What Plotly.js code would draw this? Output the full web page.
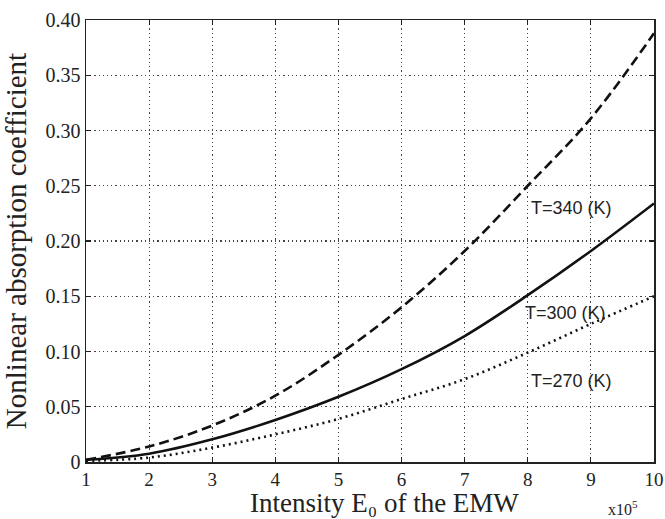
<!DOCTYPE html>
<html>
<head>
<meta charset="utf-8">
<script src="https://cdn.plot.ly/plotly-3.0.1.min.js"></script>
<style>
  html, body { margin: 0; padding: 0; background: #fff; }
  #chart { width: 665px; height: 519px; }
</style>
</head>
<body>
<div id="chart"></div>
<script>
// Intensity E0 (x10^5)
const intensity = [1, 2, 3, 4, 5, 6, 7, 8, 9, 10];
// Nonlinear absorption coefficient per temperature
const t340 = [0.002, 0.014, 0.033, 0.060, 0.097, 0.140, 0.191, 0.250, 0.311, 0.388];
const t300 = [0.002, 0.0075, 0.0205, 0.038, 0.059, 0.084, 0.114, 0.151, 0.191, 0.234];
const t270 = [0.001, 0.004, 0.013, 0.025, 0.039, 0.057, 0.075, 0.099, 0.125, 0.150];
const seriesLabels = ['T=340 (K)', 'T=300 (K)', 'T=270 (K)'];
const xTickVals = [1, 2, 3, 4, 5, 6, 7, 8, 9, 10];
const xTickText = ['1', '2', '3', '4', '5', '6', '7', '8', '9', '10'];
const yTickVals = [0, 0.05, 0.10, 0.15, 0.20, 0.25, 0.30, 0.35, 0.40];
const yTickText = ['0', '0.05', '0.10', '0.15', '0.20', '0.25', '0.30', '0.35', '0.40'];
const xTitle = 'Intensity E\u2080 of the EMW';
const yTitle = 'Nonlinear absorption coefficient';
const xScale = 'x10<sup>5</sup>';

const serif = 'Liberation Serif, Times New Roman, serif';
const sans = 'Liberation Sans, Arial, sans-serif';

const traces = [
  { x: intensity, y: t340, mode: 'lines', name: seriesLabels[0],
    line: { color: '#111', width: 2.6, dash: '10px,5px', shape: 'spline' } },
  { x: intensity, y: t300, mode: 'lines', name: seriesLabels[1],
    line: { color: '#111', width: 2.6, dash: 'solid', shape: 'spline' } },
  { x: intensity, y: t270, mode: 'lines', name: seriesLabels[2],
    line: { color: '#111', width: 2.6, dash: '2px,4px', shape: 'spline' } }
];

const axisCommon = {
  showline: true, linecolor: '#222', linewidth: 1.5, mirror: 'ticks',
  ticks: 'inside', ticklen: 5, tickwidth: 1.2, tickcolor: '#222',
  showgrid: true, gridcolor: '#444', griddash: '1.2px,3px', gridwidth: 1.2,
  zeroline: false,
  tickfont: { family: serif, size: 20, color: '#222' }
};

const layout = {
  width: 665, height: 519,
  margin: { l: 86, r: 11, t: 20, b: 57 },
  paper_bgcolor: '#fff', plot_bgcolor: '#fff',
  showlegend: false,
  xaxis: Object.assign({}, axisCommon, {
    range: [1, 10], tickmode: 'array', tickvals: xTickVals, ticktext: xTickText,
    ticklabelstandoff: 0, tickfont: { family: serif, size: 19, color: '#222' }
  }),
  yaxis: Object.assign({}, axisCommon, {
    range: [0, 0.40], tickmode: 'array', tickvals: yTickVals, ticktext: yTickText,
    title: { text: yTitle, font: { family: serif, size: 29, color: '#222' } }
  }),
  annotations: [
    { x: 0.5258, y: -0.093, xref: 'paper', yref: 'paper', xanchor: 'center', yanchor: 'middle',
      text: xTitle, showarrow: false, font: { family: serif, size: 27, color: '#222' } },
    { x: 8.7, y: 0.230, xref: 'x', yref: 'y', text: seriesLabels[0], showarrow: false,
      font: { family: sans, size: 18, color: '#222' } },
    { x: 8.6, y: 0.135, xref: 'x', yref: 'y', text: seriesLabels[1], showarrow: false,
      font: { family: sans, size: 18, color: '#222' } },
    { x: 8.7, y: 0.0735, xref: 'x', yref: 'y', text: seriesLabels[2], showarrow: false,
      font: { family: sans, size: 18, color: '#222' } },
    { x: 0.945, y: -0.104, xref: 'paper', yref: 'paper', xanchor: 'center', yanchor: 'middle',
      text: xScale, showarrow: false, font: { family: serif, size: 16, color: '#222' } }
  ]
};

Plotly.newPlot('chart', traces, layout, { displayModeBar: false, staticPlot: true });
</script>
</body>
</html>
